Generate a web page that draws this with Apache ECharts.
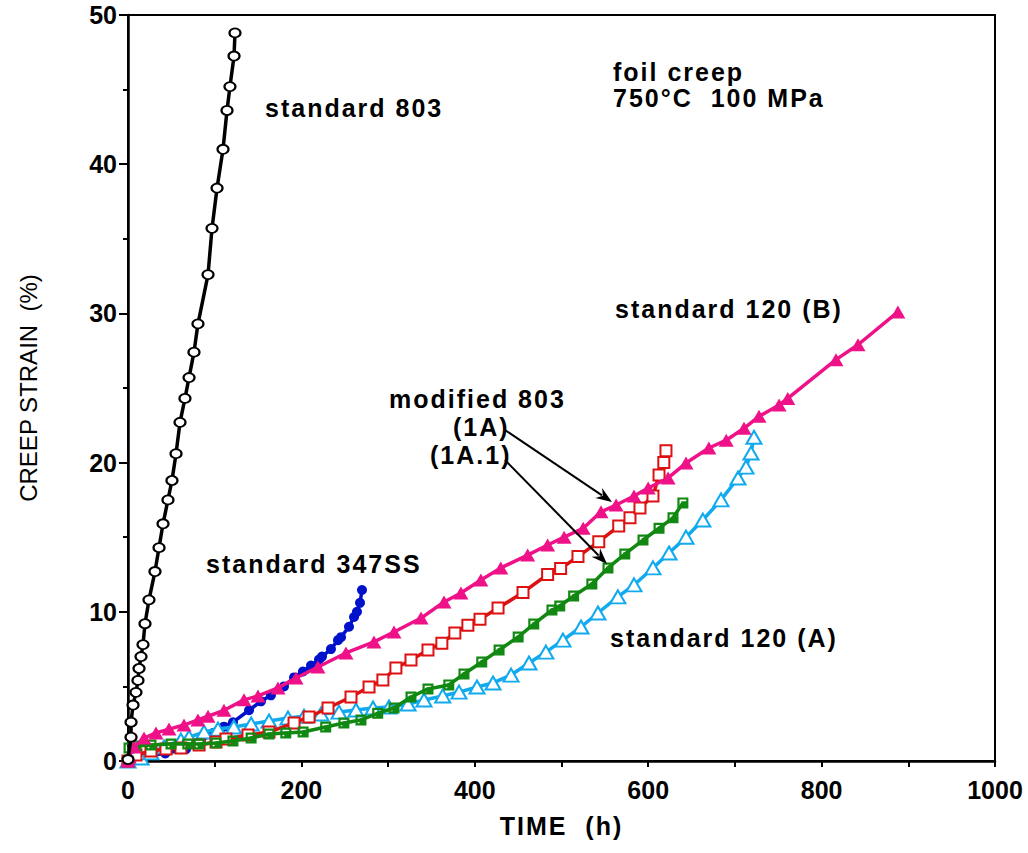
<!DOCTYPE html>
<html>
<head>
<meta charset="utf-8">
<title>Foil creep 750°C 100 MPa</title>
<script src="https://cdn.jsdelivr.net/npm/echarts@6/dist/echarts.min.js"></script>
<style>
  html, body { margin: 0; padding: 0; background: #fff; }
  #chart { width: 1028px; height: 853px; }
</style>
</head>
<body>
<div id="chart"></div>
<script>
// Creep strain (%) versus time (h) for each alloy foil
const std803 = [
  [0, 0.1], [3.5, 1.6], [3.5, 2.6], [5.8, 3.75], [9.2, 4.6], [11.5, 5.4], [12.7, 6.2],
  [15.0, 7.0], [17.3, 7.8], [19.6, 9.2], [24.2, 10.8], [31.1, 12.7], [35.8, 14.3],
  [40.4, 15.9], [46.1, 17.5], [50.7, 18.8], [55.4, 20.6], [60.0, 22.7], [65.7, 24.3],
  [70.4, 25.7], [76.1, 27.4], [80.7, 29.3], [92.3, 32.6], [96.9, 35.7], [102.7, 38.4],
  [109.6, 41.0], [114.2, 43.6], [117.6, 45.2], [122.3, 47.25], [123.4, 48.8]
];
const std347SS = [
  [0, 0], [21, 0.35], [43, 0.5], [67, 0.8], [84, 1.3], [99, 1.9], [110.7, 2.3],
  [121.1, 2.6], [139.6, 3.4], [153.4, 4.0], [164.9, 4.4], [179.9, 5.0], [191.5, 5.6],
  [201.8, 6.0], [211.1, 6.4], [220.3, 6.8], [223.8, 7.0], [234.1, 7.5], [242.2, 8.1],
  [245.7, 8.3], [254.9, 9.0], [260.7, 9.65], [264.1, 10.0], [267.6, 10.6], [269.9, 11.46]
];
const std120A = [
  [0, 0], [15, 0.2], [26.5, 0.54], [41.5, 0.94], [61, 1.4], [70.4, 1.6], [87.7, 1.94],
  [103.8, 2.14], [122, 2.28], [142, 2.48], [162.6, 2.68], [184.5, 2.88], [203, 3.0],
  [222.6, 3.15], [243.4, 3.28], [263, 3.42], [282.6, 3.55], [301, 3.62], [323, 3.82],
  [341.4, 4.09], [363, 4.36], [381.8, 4.62], [402.5, 4.96], [421, 5.23], [441.8, 5.76],
  [462.5, 6.57], [482, 7.3], [501.7, 8.1], [522.5, 8.98], [542, 9.92], [565, 11.0],
  [583.6, 11.8], [605.5, 12.94], [624, 13.94], [643.6, 15.0], [663, 16.15], [684, 17.5],
  [703.6, 18.97], [712.8, 19.7], [718.6, 20.64], [722, 21.7]
];
const mod803_1A = [
  [0, 0], [9.2, 0.4], [26.5, 0.67], [43.8, 0.8], [61, 0.87], [82, 1.07], [101.5, 1.27],
  [113, 1.47], [138.4, 1.74], [162.6, 1.94], [191.5, 2.55], [208.8, 2.95], [230.7, 3.55],
  [257.2, 4.29], [278, 4.96], [294, 5.43], [309, 6.23], [326.4, 6.77], [346, 7.44],
  [362, 7.9], [377, 8.58], [392, 9.1], [406, 9.5], [426.8, 10.25], [455.6, 11.3],
  [484, 12.5], [499, 12.9], [519, 13.7], [543, 14.7], [566, 15.75], [579, 16.3],
  [590.5, 16.96], [605.5, 17.76], [612.5, 19.17], [618, 20.0], [620.5, 20.8]
];
const mod803_1A1 = [
  [0, 0], [1.2, 0.87], [9.2, 1.0], [26.5, 1.07], [49.6, 1.14], [69, 1.14], [82, 1.14],
  [101.5, 1.2], [121, 1.34], [142, 1.54], [162.6, 1.81], [182, 1.88], [202, 1.94],
  [228, 2.28], [249, 2.55], [268.7, 2.75], [288, 3.2], [306.8, 3.55], [326.4, 4.29],
  [346, 4.83], [370, 5.1], [387.5, 5.83], [408, 6.64], [428, 7.44], [450, 8.31],
  [468, 9.18], [489, 10.12], [498, 10.39], [514, 11.06], [535, 11.86], [553.6, 12.94],
  [573, 13.87], [594, 14.81], [612.5, 15.6], [628.6, 16.3], [640, 17.3]
];
const std120B = [
  [0, 0], [1.2, 0.27], [6.9, 0.94], [18.5, 1.54], [32.3, 1.88], [47.3, 2.14], [64.6, 2.41],
  [80.7, 2.75], [92.3, 3.0], [110.7, 3.4], [133.8, 4.1], [150, 4.36], [173, 4.9],
  [193.8, 5.56], [219.1, 6.3], [251.4, 7.24], [283.7, 7.98], [306.8, 8.65], [338, 9.58],
  [364.5, 10.66], [384, 11.26], [407, 12.13], [430, 12.94], [461, 13.8], [484, 14.48],
  [503, 15.0], [525, 15.6], [545.6, 16.7], [563, 17.16], [583.6, 17.76], [600, 18.3],
  [623, 18.97], [643.6, 19.97], [670, 20.98], [690, 21.5], [710.5, 22.3], [727.8, 23.1],
  [751, 23.86], [761, 24.3], [816.6, 26.9], [842, 27.9], [888, 30.1]
];

const FONT = 'Liberation Sans, Arial, Helvetica, sans-serif';
const SPACED_TEXT = ['standard 803', 'standard 347SS', 'standard 120 (B)', 'standard 120 (A)',
  'modified 803', '(1A)', '(1A.1)', 'foil creep', '750°C  100 MPa', 'TIME  (h)'];

// green square marker with a white corner notch
const notchedSquare = 'path://M0,0L10,0L10,10L0,10Z M2,2L2,8L3.6,8L3.6,3.6L8,3.6L8,2Z';

function label(text, x, y) {
  return {
    type: 'text', left: x, top: y - 13, z: 50,
    style: { text: text, font: 'bold 25px ' + FONT, fill: '#000' }
  };
}

function arrow(x1, y1, x2, y2) {
  const ang = Math.atan2(y2 - y1, x2 - x1);
  const len = 16, half = 6;
  const bx = x2 - len * Math.cos(ang), by = y2 - len * Math.sin(ang);
  const px = -Math.sin(ang) * half, py = Math.cos(ang) * half;
  return [
    { type: 'line', z: 50, shape: { x1: x1, y1: y1, x2: bx + 4 * Math.cos(ang), y2: by + 4 * Math.sin(ang) },
      style: { stroke: '#000', lineWidth: 2 } },
    { type: 'polygon', z: 50,
      shape: { points: [[x2, y2], [bx + px, by + py], [bx + 5 * Math.cos(ang), by + 5 * Math.sin(ang)], [bx - px, by - py]] },
      style: { fill: '#000' } }
  ];
}

function lineSeries(name, data, color, symbol, size, fill, z) {
  return {
    name: name, type: 'line', data: data, z: z,
    symbol: symbol, symbolSize: size, showAllSymbol: true,
    lineStyle: { color: color, width: 3.5 },
    itemStyle: { color: fill, borderColor: color, borderWidth: fill === '#fff' ? 2 : 0 },
    emphasis: { disabled: true }, animation: false
  };
}

const chart = echarts.init(document.getElementById('chart'), null, { renderer: 'svg' });

chart.setOption({
  backgroundColor: '#fff',
  animation: false,
  grid: {
    left: 128, right: 33, top: 15, bottom: 92,
    show: true, borderColor: '#000', borderWidth: 2,
    containLabel: false, outerBoundsMode: 'none'
  },
  xAxis: {
    type: 'value', min: 0, max: 1000, interval: 200,
    name: 'TIME  (h)', nameLocation: 'middle', nameGap: 52,
    nameTextStyle: { fontFamily: FONT, fontWeight: 'bold', fontSize: 25, color: '#000' },
    axisLine: { show: true, lineStyle: { color: '#000', width: 2.5 } },
    axisTick: { show: true, inside: false, length: 6, lineStyle: { color: '#000', width: 2 } },
    minorTick: { show: true, splitNumber: 2, length: 6, lineStyle: { color: '#000', width: 2 } },
    axisLabel: { margin: 16, fontFamily: FONT, fontWeight: 'bold', fontSize: 25, color: '#000',
      formatter: function (v) { return String(v); } },
    splitLine: { show: false }, minorSplitLine: { show: false }
  },
  yAxis: {
    type: 'value', min: 0, max: 50, interval: 10,
    name: 'CREEP STRAIN  (%)', nameLocation: 'middle', nameGap: 88, nameRotate: 90,
    nameTextStyle: { fontFamily: FONT, fontWeight: 'normal', fontSize: 24, color: '#000' },
    axisLine: { show: true, lineStyle: { color: '#000', width: 2.5 } },
    axisTick: { show: true, inside: false, length: 9, lineStyle: { color: '#000', width: 2 } },
    minorTick: { show: true, splitNumber: 2, length: 5, lineStyle: { color: '#000', width: 2 } },
    axisLabel: { margin: 11, fontFamily: FONT, fontWeight: 'bold', fontSize: 25, color: '#000',
      formatter: function (v) { return String(v); } },
    splitLine: { show: false }, minorSplitLine: { show: false }
  },
  tooltip: { show: false },
  legend: { show: false },
  series: [
    lineSeries('standard 347SS', std347SS, '#0011CC', 'circle', 10, '#0011CC', 2),
    lineSeries('standard 120 (A)', std120A, '#11AAEE', 'triangle', [15, 13], '#fff', 3),
    lineSeries('modified 803 (1A)', mod803_1A, '#DD1111', 'rect', 11, '#fff', 4),
    Object.assign(lineSeries('modified 803 (1A.1)', mod803_1A1, '#118811', notchedSquare, 11, '#118811', 5),
      { itemStyle: { color: '#118811', borderWidth: 0 } }),
    lineSeries('standard 120 (B)', std120B, '#EE1188', 'triangle', [15, 13], '#EE1188', 6),
    lineSeries('standard 803', std803, '#000000', 'circle', [11, 9], '#fff', 7)
  ],
  graphic: [
    label('standard 803', 265, 108),
    label('foil creep', 613, 72),
    label('750°C  100 MPa', 613, 98),
    label('standard 120 (B)', 615, 309),
    label('modified 803', 389, 399),
    label('(1A)', 453, 427),
    label('(1A.1)', 430, 455),
    label('standard 347SS', 206, 564),
    label('standard 120 (A)', 610, 638),
    ...arrow(505, 430, 612, 502),
    ...arrow(505, 460, 607, 564)
  ]
});

// wider tracking for the annotation and axis-title lettering
function spaceText() {
  document.querySelectorAll('#chart svg text').forEach(function (t) {
    if (SPACED_TEXT.indexOf(t.textContent) >= 0) {
      t.setAttribute('letter-spacing', '2');
    }
  });
}
spaceText();
chart.on('finished', spaceText);
</script>
</body>
</html>
